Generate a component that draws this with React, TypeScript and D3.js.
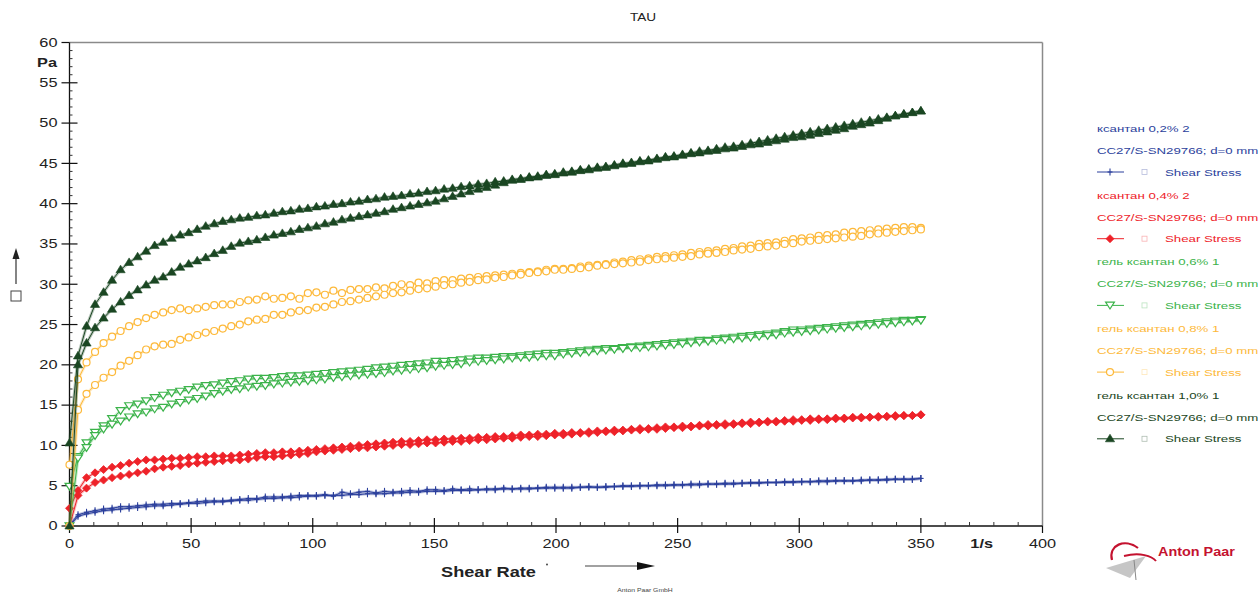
import React from "react";
import * as d3 from "d3";

// shear rate, 1/s (same for every curve)
const shearRate = [
  0, 3.5, 7, 10.5, 14, 17.5, 21, 24.5, 28, 31.5,
  35, 38.5, 42, 45.5, 49, 52.5, 56, 59.5, 63, 66.5,
  70, 73.5, 77, 80.5, 84, 87.5, 91, 94.5, 98, 101.5,
  105, 108.5, 112, 115.5, 119, 122.5, 126, 129.5, 133, 136.5,
  140, 143.5, 147, 150.5, 154, 157.5, 161, 164.5, 168, 171.5,
  175, 178.5, 182, 185.5, 189, 192.5, 196, 199.5, 203, 206.5,
  210, 213.5, 217, 220.5, 224, 227.5, 231, 234.5, 238, 241.5,
  245, 248.5, 252, 255.5, 259, 262.5, 266, 269.5, 273, 276.5,
  280, 283.5, 287, 290.5, 294, 297.5, 301, 304.5, 308, 311.5,
  315, 318.5, 322, 325.5, 329, 332.5, 336, 339.5, 343, 346.5,
  350,
];

// shear stress, Pa — two branches per sample
const xanthan02a = [
  0.1, 1.4, 1.7, 1.9, 2.1, 2.2, 2.4, 2.4, 2.5, 2.6,
  2.7, 2.7, 2.8, 2.8, 2.9, 3.0, 3.1, 3.1, 3.1, 3.2,
  3.3, 3.4, 3.4, 3.6, 3.6, 3.6, 3.7, 3.8, 3.8, 3.8,
  3.9, 3.7, 4.2, 4.0, 4.2, 4.3, 4.1, 4.3, 4.2, 4.3,
  4.4, 4.3, 4.5, 4.5, 4.4, 4.6, 4.5, 4.6, 4.5, 4.6,
  4.6, 4.7, 4.6, 4.7, 4.7, 4.7, 4.8, 4.8, 4.8, 4.8,
  4.8, 4.9, 4.8, 4.9, 4.9, 5.0, 5.0, 5.0, 5.0, 5.1,
  5.1, 5.1, 5.1, 5.2, 5.2, 5.2, 5.2, 5.3, 5.3, 5.3,
  5.4, 5.4, 5.4, 5.4, 5.5, 5.5, 5.5, 5.5, 5.6, 5.6,
  5.6, 5.6, 5.6, 5.7, 5.7, 5.7, 5.8, 5.8, 5.8, 5.8,
  5.9,
];
const xanthan02b = [
  0, 1.2, 1.5, 1.7, 1.9, 2.0, 2.1, 2.2, 2.3, 2.4,
  2.5, 2.5, 2.6, 2.7, 2.8, 2.8, 2.9, 3.0, 3.0, 3.1,
  3.2, 3.2, 3.3, 3.4, 3.4, 3.5, 3.5, 3.6, 3.7, 3.7,
  3.8, 3.8, 3.8, 3.9, 3.9, 4.0, 4.0, 4.0, 4.1, 4.1,
  4.2, 4.2, 4.3, 4.3, 4.3, 4.4, 4.4, 4.4, 4.5, 4.5,
  4.5, 4.6, 4.6, 4.6, 4.6, 4.7, 4.7, 4.7, 4.7, 4.7,
  4.8, 4.8, 4.8, 4.8, 4.9, 4.9, 4.9, 5.0, 5.0, 5.0,
  5.0, 5.1, 5.1, 5.1, 5.1, 5.2, 5.2, 5.2, 5.2, 5.3,
  5.3, 5.3, 5.4, 5.4, 5.4, 5.4, 5.5, 5.5, 5.5, 5.5,
  5.6, 5.6, 5.6, 5.6, 5.7, 5.7, 5.7, 5.8, 5.8, 5.8,
  5.9,
];
const xanthan04a = [
  2.2, 4.4, 6.0, 6.6, 7.0, 7.3, 7.5, 7.8, 8.0, 8.2,
  8.2, 8.3, 8.4, 8.4, 8.5, 8.6, 8.6, 8.7, 8.7, 8.7,
  8.8, 8.9, 9.0, 9.1, 9.1, 9.2, 9.2, 9.3, 9.4, 9.5,
  9.6, 9.7, 9.8, 9.9, 10.0, 10.1, 10.2, 10.3, 10.4, 10.5,
  10.5, 10.6, 10.7, 10.7, 10.8, 10.8, 10.9, 10.9, 11.0, 11.0,
  11.1, 11.1, 11.2, 11.3, 11.3, 11.4, 11.4, 11.5, 11.5, 11.6,
  11.6, 11.7, 11.8, 11.8, 11.9, 11.9, 12.0, 12.1, 12.1, 12.2,
  12.3, 12.3, 12.4, 12.4, 12.5, 12.6, 12.6, 12.7, 12.7, 12.8,
  12.9, 12.9, 13.0, 13.0, 13.1, 13.2, 13.2, 13.3, 13.3, 13.3,
  13.4, 13.4, 13.5, 13.5, 13.5, 13.6, 13.6, 13.7, 13.7, 13.7,
  13.8,
];
const xanthan04b = [
  0, 3.8, 4.7, 5.4, 5.7, 6.0, 6.2, 6.4, 6.6, 6.8,
  7.1, 7.3, 7.4, 7.5, 7.7, 7.8, 7.9, 8.0, 8.1, 8.2,
  8.2, 8.3, 8.5, 8.6, 8.6, 8.7, 8.8, 8.9, 9.0, 9.2,
  9.3, 9.4, 9.5, 9.6, 9.7, 9.7, 9.8, 9.9, 10.0, 10.1,
  10.1, 10.2, 10.3, 10.3, 10.4, 10.5, 10.5, 10.6, 10.7, 10.7,
  10.8, 10.9, 10.9, 11.0, 11.1, 11.1, 11.2, 11.3, 11.3, 11.4,
  11.5, 11.5, 11.6, 11.7, 11.7, 11.8, 11.9, 11.9, 12.0, 12.0,
  12.1, 12.2, 12.2, 12.3, 12.4, 12.4, 12.5, 12.5, 12.6, 12.7,
  12.7, 12.8, 12.9, 12.9, 13.0, 13.0, 13.1, 13.1, 13.2, 13.2,
  13.3, 13.3, 13.4, 13.4, 13.5, 13.5, 13.6, 13.6, 13.7, 13.7,
  13.8,
];
const gel06a = [
  4.9, 8.6, 10.3, 11.6, 12.4, 13.3, 14.3, 14.9, 15.1, 15.5,
  15.9, 16.2, 16.5, 16.7, 16.9, 17.2, 17.4, 17.5, 17.7, 17.9,
  18.0, 18.2, 18.3, 18.3, 18.4, 18.5, 18.6, 18.6, 18.7, 18.8,
  18.9, 19.0, 19.1, 19.2, 19.3, 19.4, 19.6, 19.7, 19.8, 19.9,
  20.0, 20.1, 20.2, 20.4, 20.4, 20.5, 20.6, 20.7, 20.8, 20.8,
  20.9, 21.0, 21.0, 21.1, 21.2, 21.3, 21.4, 21.4, 21.5, 21.6,
  21.7, 21.8, 21.9, 22.0, 22.0, 22.1, 22.2, 22.3, 22.4, 22.5,
  22.6, 22.7, 22.8, 22.9, 23.0, 23.0, 23.2, 23.3, 23.4, 23.5,
  23.6, 23.7, 23.8, 23.9, 24.1, 24.3, 24.3, 24.4, 24.5, 24.6,
  24.7, 24.8, 24.9, 25.0, 25.1, 25.2, 25.3, 25.4, 25.5, 25.5,
  25.6,
];
const gel06b = [
  0, 8.4, 9.7, 11.2, 12.0, 12.6, 13.0, 13.5, 13.9, 14.1,
  14.5, 14.7, 15.1, 15.3, 15.6, 15.8, 16.1, 16.4, 16.7, 16.9,
  17.0, 17.2, 17.3, 17.4, 17.6, 17.7, 17.8, 17.9, 18.0, 18.1,
  18.2, 18.4, 18.5, 18.6, 18.7, 18.8, 18.9, 19.0, 19.2, 19.3,
  19.4, 19.5, 19.6, 19.8, 19.9, 20.0, 20.1, 20.3, 20.4, 20.5,
  20.6, 20.7, 20.8, 20.9, 20.9, 21.0, 21.1, 21.1, 21.3, 21.4,
  21.5, 21.6, 21.7, 21.8, 21.9, 22.0, 22.1, 22.1, 22.2, 22.3,
  22.4, 22.5, 22.6, 22.7, 22.8, 22.9, 23.0, 23.1, 23.2, 23.3,
  23.4, 23.5, 23.6, 23.7, 23.9, 24.0, 24.1, 24.2, 24.3, 24.4,
  24.5, 24.6, 24.7, 24.8, 24.9, 25.0, 25.1, 25.2, 25.3, 25.4,
  25.5,
];
const gel08a = [
  7.6, 18.2, 20.3, 21.6, 22.7, 23.5, 24.2, 24.8, 25.3, 25.8,
  26.2, 26.5, 26.8, 27.0, 26.8, 27.0, 27.2, 27.4, 27.5, 27.5,
  27.8, 28.0, 28.1, 28.5, 28.2, 28.3, 28.5, 28.2, 28.9, 29.0,
  28.7, 29.2, 28.9, 29.3, 29.4, 29.4, 29.6, 29.5, 29.8, 30.0,
  29.9, 30.2, 30.1, 30.4, 30.5, 30.5, 30.7, 30.8, 30.9, 31.0,
  31.1, 31.2, 31.3, 31.4, 31.5, 31.6, 31.8, 31.9, 31.9, 32.0,
  32.2, 32.3, 32.4, 32.5, 32.7, 32.8, 33.0, 33.1, 33.2, 33.4,
  33.5, 33.6, 33.7, 33.9, 34.0, 34.1, 34.2, 34.4, 34.5, 34.7,
  34.8, 35.0, 35.1, 35.2, 35.4, 35.6, 35.7, 35.8, 36.0, 36.1,
  36.2, 36.4, 36.5, 36.6, 36.7, 36.8, 36.9, 37.0, 37.1, 37.1,
  37.0,
];
const gel08b = [
  0, 14.4, 16.4, 17.5, 18.4, 19.1, 19.9, 20.5, 21.2, 21.9,
  22.3, 22.5, 22.6, 23.1, 23.4, 23.7, 24.0, 24.2, 24.5, 24.8,
  25.0, 25.4, 25.6, 25.7, 26.2, 26.2, 26.5, 26.7, 26.8, 27.1,
  27.2, 27.5, 27.8, 27.9, 28.1, 28.3, 28.5, 28.7, 28.9, 29.0,
  29.2, 29.4, 29.5, 29.7, 29.9, 30.0, 30.2, 30.3, 30.5, 30.6,
  30.8, 30.9, 31.1, 31.2, 31.4, 31.5, 31.6, 31.8, 31.8, 31.9,
  32.0, 32.1, 32.3, 32.4, 32.5, 32.6, 32.7, 32.8, 33.0, 33.1,
  33.2, 33.3, 33.4, 33.5, 33.7, 33.8, 33.9, 34.0, 34.2, 34.3,
  34.4, 34.6, 34.7, 34.8, 35.0, 35.1, 35.3, 35.4, 35.5, 35.6,
  35.7, 35.8, 35.9, 36.0, 36.2, 36.3, 36.4, 36.5, 36.6, 36.7,
  36.8,
];
const gel10a = [
  10.3, 21.1, 24.8, 27.5, 29.0, 30.5, 31.8, 32.7, 33.4, 34.1,
  34.8, 35.2, 35.7, 36.1, 36.4, 36.8, 37.2, 37.5, 37.8, 38.0,
  38.2, 38.3, 38.5, 38.6, 38.8, 39.0, 39.1, 39.3, 39.4, 39.6,
  39.7, 39.9, 40.0, 40.2, 40.3, 40.5, 40.6, 40.8, 40.9, 41.0,
  41.2, 41.3, 41.5, 41.6, 41.8, 41.9, 42.1, 42.2, 42.4, 42.5,
  42.7, 42.8, 43.0, 43.1, 43.3, 43.4, 43.6, 43.7, 43.9, 44.0,
  44.2, 44.3, 44.5, 44.6, 44.8, 45.0, 45.1, 45.3, 45.4, 45.6,
  45.8, 45.9, 46.1, 46.3, 46.5, 46.6, 46.8, 47.0, 47.1, 47.3,
  47.5, 47.7, 47.9, 48.1, 48.3, 48.5, 48.7, 48.9, 49.1, 49.3,
  49.5, 49.7, 49.9, 50.1, 50.3, 50.5, 50.7, 50.9, 51.1, 51.3,
  51.5,
];
const gel10b = [
  0, 20.0, 22.7, 24.6, 25.8, 26.9, 27.8, 28.6, 29.3, 29.9,
  30.5, 30.9, 31.5, 32.1, 32.5, 32.9, 33.3, 33.8, 34.2, 34.7,
  35.1, 35.3, 35.5, 35.8, 36.1, 36.3, 36.5, 36.8, 37.0, 37.2,
  37.5, 37.7, 38.0, 38.2, 38.4, 38.6, 38.8, 39.0, 39.3, 39.5,
  39.7, 39.9, 40.1, 40.3, 40.6, 40.9, 41.2, 41.5, 41.8, 42.0,
  42.3, 42.6, 42.9, 43.0, 43.2, 43.3, 43.5, 43.6, 43.8, 43.9,
  44.1, 44.2, 44.4, 44.5, 44.7, 44.9, 45.0, 45.2, 45.3, 45.5,
  45.7, 45.8, 46.0, 46.2, 46.3, 46.5, 46.6, 46.8, 46.9, 47.1,
  47.3, 47.4, 47.6, 47.8, 48.0, 48.2, 48.3, 48.5, 48.7, 48.9,
  49.1, 49.3, 49.6, 49.8, 50.0, 50.3, 50.6, 50.9, 51.1, 51.3,
  51.5,
];

const sampleNames = [
  "ксантан 0,2% 2",
  "ксантан 0,4% 2",
  "гель ксантан 0,6% 1",
  "гель ксантан 0,8% 1",
  "гель ксантан 1,0% 1",
];
const sampleColors = ["#2b3f9c", "#ee2229", "#3bb34a", "#fdb93a", "#1a4622"];
const sampleMarkers = ["plus", "diamond", "dtri", "circle", "tri"];
const sampleBranches = [
  [xanthan02a, xanthan02b],
  [xanthan04a, xanthan04b],
  [gel06a, gel06b],
  [gel08a, gel08b],
  [gel10a, gel10b],
];

const yTicks = [0, 5, 10, 15, 20, 25, 30, 35, 40, 45, 50, 55, 60];
const xTicks = [0, 50, 100, 150, 200, 250, 300, 350, 400];

const FONT = "'Liberation Sans', Arial, Helvetica, sans-serif";
const SX = 1.36; // the original export is stretched horizontally

const W = 1258;
const H = 593;
const plot = { left: 69.5, right: 1042.5, top: 42.5, bottom: 526 };

const x = d3.scaleLinear().domain([0, 400]).range([plot.left, plot.right]);
const y = d3.scaleLinear().domain([0, 60]).range([plot.bottom, plot.top]);

function Txt({ x, y, size, children, anchor = "start", weight = "normal", fill = "#222", sx = SX }) {
  return (
    <text
      transform={`translate(${x},${y}) scale(${sx},1)`}
      fontFamily={FONT}
      fontSize={size}
      fontWeight={weight}
      fill={fill}
      textAnchor={anchor}
    >
      {children}
    </text>
  );
}

function Marker({ kind, cx, cy, color }) {
  if (kind === "tri") {
    return <polygon points={`${cx},${cy - 4.6} ${cx - 4.6},${cy + 3} ${cx + 4.6},${cy + 3}`} fill={color} stroke={color} strokeWidth={0.6} />;
  }
  if (kind === "dtri") {
    return <polygon points={`${cx - 4.4},${cy - 3.2} ${cx + 4.4},${cy - 3.2} ${cx},${cy + 3.6}`} fill="#fff" stroke={color} strokeWidth={1.2} />;
  }
  if (kind === "circle") {
    return <circle cx={cx} cy={cy} r={3.5} fill="#fff" stroke={color} strokeWidth={1.2} />;
  }
  if (kind === "diamond") {
    return <polygon points={`${cx},${cy - 4} ${cx + 4},${cy} ${cx},${cy + 4} ${cx - 4},${cy}`} fill={color} stroke={color} strokeWidth={0.8} strokeLinejoin="round" />;
  }
  return (
    <g stroke={color} strokeWidth={1.1}>
      <line x1={cx} x2={cx} y1={cy - 3.5} y2={cy + 3.5} />
      <line x1={cx - 2.5} x2={cx + 2.5} y1={cy} y2={cy} />
    </g>
  );
}

export default function App() {
  const line = d3
    .line<number>()
    .x((_, i) => x(shearRate[i]))
    .y((d) => y(d));

  const minorY = d3.range(0, 61, 1).filter((v) => v % 5 !== 0);
  const minorX = d3.range(0, 401, 10).filter((v) => v % 50 !== 0);

  return (
    <svg
      width={W}
      height={H}
      style={{ position: "absolute", left: 0, top: 0, background: "#fff" }}
    >
      <Txt x={643} y={21} size={10} anchor="middle">TAU</Txt>

      {/* frame */}
      <line x1={plot.left} x2={plot.right} y1={plot.top} y2={plot.top} stroke="#8a8a8a" strokeWidth={1.5} />
      <line x1={plot.right} x2={plot.right} y1={plot.top} y2={plot.bottom} stroke="#8a8a8a" strokeWidth={1.5} />

      {/* y axis */}
      <line x1={plot.left} x2={plot.left} y1={plot.top} y2={plot.bottom} stroke="#111" strokeWidth={1.3} />
      {minorY.map((v) => (
        <line key={"my" + v} x1={plot.left} x2={plot.left + 3} y1={y(v)} y2={y(v)} stroke="#333" strokeWidth={1} />
      ))}
      {yTicks.map((v) => (
        <g key={"y" + v}>
          <line x1={plot.left - 8} x2={plot.left + (v === 0 || v === 60 ? 0 : 8)} y1={y(v)} y2={y(v)} stroke="#111" strokeWidth={1.2} />
          <Txt x={57.5} y={y(v) + 4.3} size={12} anchor="end">{v}</Txt>
        </g>
      ))}
      <Txt x={57} y={y(57.5) + 4.5} size={12} anchor="end" weight="bold">Pa</Txt>

      {/* y axis title: arrow + placeholder box */}
      <line x1={16} x2={16} y1={284} y2={258} stroke="#333" strokeWidth={1.2} />
      <polygon points="16,248 12.5,259 19.5,259" fill="#222" />
      <rect x={11} y={291} width={10} height={10} fill="none" stroke="#444" strokeWidth={1} />

      {/* x axis */}
      <line x1={plot.left} x2={plot.right} y1={plot.bottom} y2={plot.bottom} stroke="#111" strokeWidth={1.3} />
      {minorX.map((v) => (
        <line key={"mx" + v} x1={x(v)} x2={x(v)} y1={plot.bottom - 4} y2={plot.bottom} stroke="#333" strokeWidth={1} />
      ))}
      {xTicks.map((v) => (
        <g key={"x" + v}>
          <line x1={x(v)} x2={x(v)} y1={plot.bottom - (v === 0 || v === 400 ? 0 : 8)} y2={plot.bottom + 7} stroke="#111" strokeWidth={1.2} />
          <Txt x={x(v)} y={548} size={12} anchor="middle">{v}</Txt>
        </g>
      ))}
      <Txt x={x(375)} y={548} size={12} anchor="middle" weight="bold">1/s</Txt>

      <Txt x={441} y={577} size={14} weight="bold" sx={1.3}>Shear Rate</Txt>
      <circle cx={547} cy={564.5} r={0.9} fill="#333" />
      <line x1={585} x2={640} y1={566} y2={566} stroke="#444" strokeWidth={1.2} />
      <polygon points="637,562 655,566 637,570" fill="#111" />
      <Txt x={645} y={592} size={5} anchor="middle" fill="#444">Anton Paar GmbH</Txt>

      {/* data */}
      {sampleBranches.map((branches, s) => (
        <g key={"s" + s}>
          {branches.map((vals, b) => (
            <g key={"b" + b}>
              <path d={line(vals) || ""} fill="none" stroke={sampleColors[s]} strokeOpacity={0.3} strokeWidth={3} />
              <path d={line(vals) || ""} fill="none" stroke={sampleColors[s]} strokeWidth={1} />
            </g>
          ))}
          {branches.map((vals, b) =>
            vals.map((v, i) => (
              <Marker key={`m${b}-${i}`} kind={sampleMarkers[s]} cx={x(shearRate[i])} cy={y(v)} color={sampleColors[s]} />
            ))
          )}
        </g>
      ))}

      {/* legend */}
      {sampleNames.map((name, s) => {
        const top = 132 + s * 66.7;
        const c = sampleColors[s];
        return (
          <g key={"lg" + s}>
            <Txt x={1097} y={top} size={9.6} fill={c} sx={1.38}>{name}</Txt>
            <Txt x={1097} y={top + 22} size={9.6} fill={c} sx={1.38}>CC27/S-SN29766; d=0 mm</Txt>
            <line x1={1097} x2={1124} y1={top + 40} y2={top + 40} stroke={c} strokeWidth={1} />
            <Marker kind={sampleMarkers[s]} cx={1110} cy={top + 40} color={c} />
            <rect x={1142} y={top + 37.5} width={5} height={5} fill="none" stroke={c} strokeOpacity={0.35} strokeWidth={0.8} />
            <Txt x={1165} y={top + 43.5} size={9.6} fill={c} sx={1.38}>Shear Stress</Txt>
          </g>
        );
      })}

      {/* Anton Paar logo */}
      <g>
        <path d="M1106,568 L1146,556 L1130,578 Z" fill="#b8b8b8" opacity={0.8} />
        <path d="M1112,560 C1108,545 1125,538 1138,548" fill="none" stroke="#c4122f" strokeWidth={2.2} />
        <path d="M1124,556 C1140,552 1152,556 1156,561" fill="none" stroke="#c4122f" strokeWidth={2} />
        <line x1={1134} x2={1136} y1={560} y2={580} stroke="#888" strokeWidth={1} />
        <Txt x={1158} y={556} size={12} weight="bold" fill="#c4122f" sx={1.2}>Anton Paar</Txt>
      </g>
    </svg>
  );
}
